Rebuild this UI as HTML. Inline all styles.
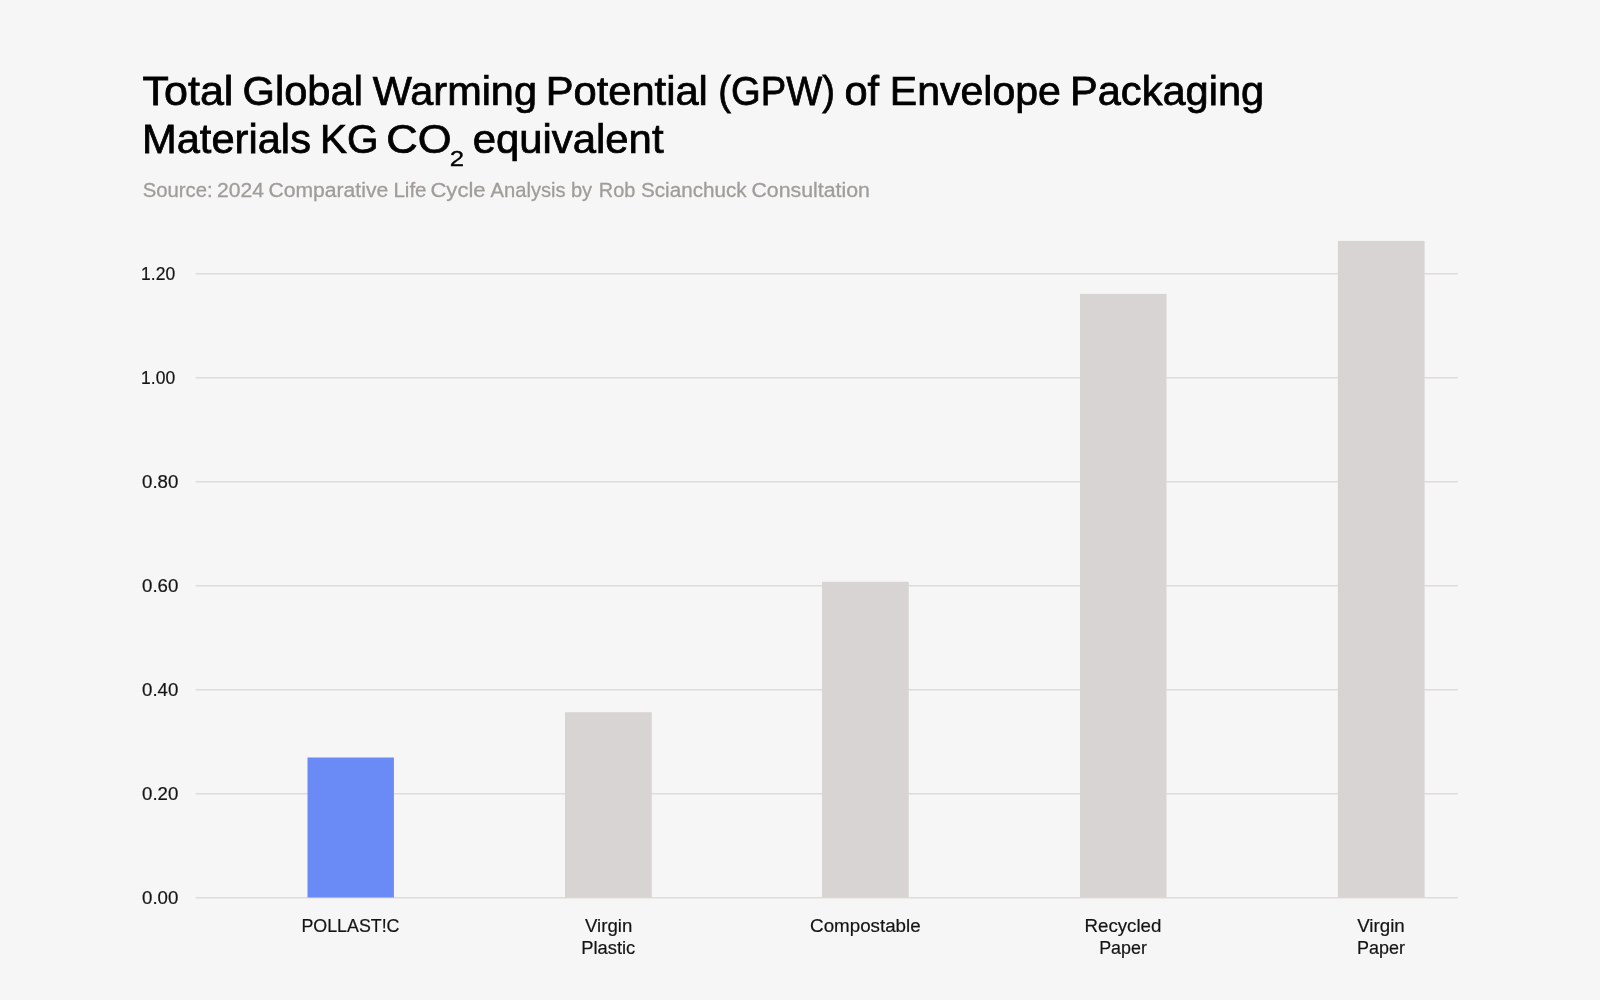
<!DOCTYPE html>
<html><head><meta charset="utf-8"><title>Total Global Warming Potential (GPW) of Envelope Packaging Materials</title>
<style>
html,body{margin:0;padding:0;background:#f6f6f6;}
body{width:1600px;height:1000px;overflow:hidden;}
svg{display:block;will-change:transform;}
text{font-family:"Liberation Sans",sans-serif;}
</style></head><body>
<svg width="1600" height="1000" viewBox="0 0 1600 1000">
<rect x="0" y="0" width="1600" height="1000" fill="#f6f6f6"/>
<rect x="195.6" y="273" width="1262.3" height="1.5" fill="#dfdcda"/>
<rect x="195.6" y="377" width="1262.3" height="1.5" fill="#dfdcda"/>
<rect x="195.6" y="481" width="1262.3" height="1.5" fill="#dfdcda"/>
<rect x="195.6" y="585" width="1262.3" height="1.5" fill="#dfdcda"/>
<rect x="195.6" y="689" width="1262.3" height="1.5" fill="#dfdcda"/>
<rect x="195.6" y="793" width="1262.3" height="1.5" fill="#dfdcda"/>
<rect x="195.6" y="897" width="1262.3" height="1.5" fill="#dfdcda"/>
<rect x="307.5" y="757.5" width="86.4" height="140.00" fill="#6a8bf5"/>
<rect x="565.0" y="712.2" width="86.75" height="185.30" fill="#d8d4d3"/>
<rect x="822.0" y="581.8" width="86.75" height="315.70" fill="#d8d4d3"/>
<rect x="1080.0" y="293.9" width="86.5" height="603.60" fill="#d8d4d3"/>
<rect x="1337.9" y="240.9" width="86.7" height="656.60" fill="#d8d4d3"/>
<text transform="translate(142.50 104.80) scale(1.0504 1)" font-size="41.0" fill="#000" stroke="#000" stroke-width="0.75">Total</text>
<text transform="translate(242.47 104.80) scale(1.0165 1)" font-size="41.0" fill="#000" stroke="#000" stroke-width="0.75">Global</text>
<text transform="translate(372.70 104.80) scale(1.0112 1)" font-size="41.0" fill="#000" stroke="#000" stroke-width="0.75">Warming</text>
<text transform="translate(545.70 104.80) scale(1.0169 1)" font-size="41.0" fill="#000" stroke="#000" stroke-width="0.75">Potential</text>
<text transform="translate(718.34 104.80) scale(0.9310 1)" font-size="41.0" fill="#000" stroke="#000" stroke-width="0.75">(GPW)</text>
<text transform="translate(844.39 104.80) scale(1.0147 1)" font-size="41.0" fill="#000" stroke="#000" stroke-width="0.75">of</text>
<text transform="translate(889.80 104.80) scale(1.0014 1)" font-size="41.0" fill="#000" stroke="#000" stroke-width="0.75">Envelope</text>
<text transform="translate(1069.96 104.80) scale(1.0147 1)" font-size="41.0" fill="#000" stroke="#000" stroke-width="0.75">Packaging</text>
<text transform="translate(141.95 153.00) scale(1.0164 1)" font-size="41.0" fill="#000" stroke="#000" stroke-width="0.75">Materials</text>
<text transform="translate(319.94 153.00) scale(0.9879 1)" font-size="41.0" fill="#000" stroke="#000" stroke-width="0.75">KG</text>
<text transform="translate(386.28 153.00) scale(1.0606 1)" font-size="41.0" fill="#000" stroke="#000" stroke-width="0.75">CO</text>
<text transform="translate(472.68 153.00) scale(1.0213 1)" font-size="41.0" fill="#000" stroke="#000" stroke-width="0.75">equivalent</text>
<text transform="translate(449.80 165.80) scale(1.2000 1)" font-size="21.5" fill="#000" stroke="#000" stroke-width="0.3">2</text>
<text transform="translate(142.75 197.00) scale(0.9750 1)" font-size="20.8" fill="#a09c9a" stroke="#a09c9a" stroke-width="0.3">Source:</text>
<text transform="translate(217.08 197.00) scale(1.0157 1)" font-size="20.8" fill="#a09c9a" stroke="#a09c9a" stroke-width="0.3">2024</text>
<text transform="translate(268.38 197.00) scale(1.0174 1)" font-size="20.8" fill="#a09c9a" stroke="#a09c9a" stroke-width="0.3">Comparative</text>
<text transform="translate(393.41 197.00) scale(0.9886 1)" font-size="20.8" fill="#a09c9a" stroke="#a09c9a" stroke-width="0.3">Life</text>
<text transform="translate(430.44 197.00) scale(1.0607 1)" font-size="20.8" fill="#a09c9a" stroke="#a09c9a" stroke-width="0.3">Cycle</text>
<text transform="translate(490.60 197.00) scale(0.9690 1)" font-size="20.8" fill="#a09c9a" stroke="#a09c9a" stroke-width="0.3">Analysis</text>
<text transform="translate(570.93 197.00) scale(0.9668 1)" font-size="20.8" fill="#a09c9a" stroke="#a09c9a" stroke-width="0.3">by</text>
<text transform="translate(598.79 197.00) scale(0.9567 1)" font-size="20.8" fill="#a09c9a" stroke="#a09c9a" stroke-width="0.3">Rob</text>
<text transform="translate(641.00 197.00) scale(0.9934 1)" font-size="20.8" fill="#a09c9a" stroke="#a09c9a" stroke-width="0.3">Scianchuck</text>
<text transform="translate(751.47 197.00) scale(1.0250 1)" font-size="20.8" fill="#a09c9a" stroke="#a09c9a" stroke-width="0.3">Consultation</text>
<text transform="translate(141.06 279.55) scale(0.9412 1)" font-size="18.6" fill="#141414" stroke="#141414" stroke-width="0.2">1.20</text>
<text transform="translate(141.06 383.55) scale(0.9412 1)" font-size="18.6" fill="#141414" stroke="#141414" stroke-width="0.2">1.00</text>
<text transform="translate(142.00 487.55) scale(1.0042 1)" font-size="18.6" fill="#141414" stroke="#141414" stroke-width="0.2">0.80</text>
<text transform="translate(142.00 591.55) scale(1.0042 1)" font-size="18.6" fill="#141414" stroke="#141414" stroke-width="0.2">0.60</text>
<text transform="translate(142.00 695.55) scale(1.0042 1)" font-size="18.6" fill="#141414" stroke="#141414" stroke-width="0.2">0.40</text>
<text transform="translate(142.00 799.55) scale(1.0042 1)" font-size="18.6" fill="#141414" stroke="#141414" stroke-width="0.2">0.20</text>
<text transform="translate(142.00 903.55) scale(1.0042 1)" font-size="18.6" fill="#141414" stroke="#141414" stroke-width="0.2">0.00</text>
<text transform="translate(301.44 932.00) scale(0.9586 1)" font-size="18.6" fill="#141414" stroke="#141414" stroke-width="0.2">POLLAST!C</text>
<text transform="translate(585.00 932.00) scale(1.0008 1)" font-size="18.6" fill="#141414" stroke="#141414" stroke-width="0.2">Virgin</text>
<text transform="translate(581.21 953.70) scale(0.9875 1)" font-size="18.6" fill="#141414" stroke="#141414" stroke-width="0.2">Plastic</text>
<text transform="translate(810.10 932.00) scale(1.0090 1)" font-size="18.6" fill="#141414" stroke="#141414" stroke-width="0.2">Compostable</text>
<text transform="translate(1084.49 932.00) scale(1.0062 1)" font-size="18.6" fill="#141414" stroke="#141414" stroke-width="0.2">Recycled</text>
<text transform="translate(1099.14 953.70) scale(0.9623 1)" font-size="18.6" fill="#141414" stroke="#141414" stroke-width="0.2">Paper</text>
<text transform="translate(1357.20 932.00) scale(1.0072 1)" font-size="18.6" fill="#141414" stroke="#141414" stroke-width="0.2">Virgin</text>
<text transform="translate(1356.93 953.70) scale(0.9664 1)" font-size="18.6" fill="#141414" stroke="#141414" stroke-width="0.2">Paper</text>
</svg>
</body></html>
